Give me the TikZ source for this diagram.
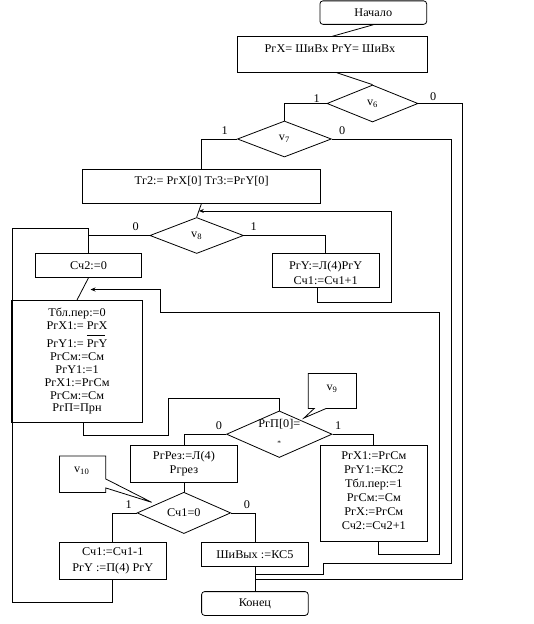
\documentclass[tikz,border=0pt]{standalone}
\usepackage{fontspec}
\setmainfont{Liberation Serif}[FakeStretch=1.04]
\usetikzlibrary{shapes.geometric,shapes.callouts,arrows.meta,calc}
\begin{document}
\begin{tikzpicture}[x=1pt,y=-1pt,
  every node/.style={font=\fontsize{11.8}{12.8}\selectfont, inner sep=0pt},
  box/.style={draw, line width=0.8pt, rectangle},
  rbox/.style={box, rounded corners=3pt},
  dia/.style={draw, diamond, line width=0.8pt},
  ln/.style={line width=0.8pt},
  arr/.style={ln, -{Stealth[length=5pt,width=4pt]}},
  callbox/.style={draw, rectangle callout, line width=0.8pt}]

\fill[white] (0,0) rectangle (534,624);
\useasboundingbox (0,0) rectangle (534,624);

% nodes
\node[rbox, minimum width=106.7pt, minimum height=23.5pt] (start) at (373.3,12.6) {Начало};
\node[box, minimum width=190pt, minimum height=35.6pt] (prx) at (332.3,54.5) {};
\node (prxt) at (330,48.7) {РгХ= ШиВх РгY= ШиВх};
\node[dia, minimum width=91pt, minimum height=37pt] (v6) at (372.5,103.5) {v\textsubscript{6}};
\node[dia, minimum width=94pt, minimum height=36pt] (v7) at (284.4,139) {v\textsubscript{7}};
\node[box, minimum width=237.4pt, minimum height=33.4pt] (tr2) at (201.5,186.3) {};
\node (tr2t) at (201.6,181.5) {Тг2:= РгХ[0] Тг3:=РгY[0]};
\node[dia, minimum width=93.6pt, minimum height=36pt] (v8) at (196.7,235.5) {v\textsubscript{8}};
\node[box, minimum width=105.5pt, minimum height=23.8pt] (sc2) at (88.5,265.5) {Сч2:=0};
\node[box, minimum width=106.5pt, minimum height=34pt] (pry) at (325.7,270.6) {};
\begin{scope}
  \clip (pry.north west) rectangle ([yshift=3pt]pry.south east);
  \node[align=center, font=\fontsize{11.8}{15.3}\selectfont] (pryt) at (325.7,273) {РгY:=Л(4)РгY\\Сч1:=Сч1+1};
\end{scope}
\node[box, minimum width=130.5pt, minimum height=122pt, align=center] (big) at (77.1,361.2)
  {Тбл.пер:=0\\ РгХ1:= РгХ\\[6pt] РгY1:= \smash{\makebox[0pt][l]{\raisebox{12.5pt}{\rule{18pt}{0.5pt}}}}РгY\\ РгСм:=См\\ РгY1:=1\\ РгХ1:=РгСм\\ РгСм:=См\\ РгП=Прн};
\node[dia, minimum width=105.6pt, minimum height=46.6pt] (pp) at (279.3,434.2) {};
\node (ppt) at (279.3,424.5) {РгП[0]=};
\node (ppm) at (279.3,443) {\scriptsize *};
\node[callbox, minimum width=48.2pt, minimum height=35pt, callout absolute pointer={(304,418)}, callout pointer width=12pt] (v9) at (332.4,390.9) {};
\node (v9t) at (332,388.5) {v\textsubscript{9}};
\node[box, minimum width=107pt, minimum height=36.8pt, align=center, font=\fontsize{11.8}{13.7}\selectfont] (rez) at (183.9,464) {РгРез:=Л(4)\\Ргрез};
\node[box, minimum width=107.2pt, minimum height=95.9pt] (rbx) at (373.8,493.5) {};
\node[align=center, font=\fontsize{11.8}{14.1}\selectfont] (rbxt) at (373.8,490.5)
  {РгХ1:=РгСм\\ РгY1:=КС2\\ Тбл.пер:=1\\ РгСм:=См\\ РгХ:=РгСм\\ Сч2:=Сч2+1};
\node[dia, minimum width=93.6pt, minimum height=36.8pt] (sc1z) at (183.9,512.9) {Сч1=0};
\node[callbox, minimum width=46.3pt, minimum height=36.5pt, callout absolute pointer={(151.6,502.3)}, callout pointer width=9pt] (v10) at (82.6,474.2) {};
\node (v10t) at (81.7,470.7) {v\textsubscript{10}};
\node[box, minimum width=106.3pt, minimum height=36.8pt, align=center, font=\fontsize{11.8}{15.7}\selectfont] (sc1m) at (112.8,560.6) {Сч1:=Сч1-1\\РгY :=П(4) РгY};
\node[box, minimum width=106.6pt, minimum height=24.5pt] (shv) at (254.9,554.4) {ШиВых :=КС5};
\node[rbox, minimum width=106.6pt, minimum height=23.8pt] (fin) at (254.9,603.5) {Конец};

% branch labels
\node (l6a) at (316.7,98.3) {1};
\node (l6b) at (433.3,97) {0};
\node (l7a) at (224.8,130.4) {1};
\node (l7b) at (342.3,130.4) {0};
\node (l8a) at (135.6,227) {0};
\node (l8b) at (253.7,227) {1};
\node (lpa) at (219,425.6) {0};
\node (lpb) at (338.2,425.6) {1};
\node (lsa) at (128.7,504.7) {1};
\node (lsb) at (246.9,504.7) {0};

% connectors
\coordinate (j6) at (254.9,579);
\coordinate (j7) at (254.9,574.5);
\draw[ln] (start.south) -- (prx.north);
\draw[ln] ([xshift=4.4pt]prx.south) -- (v6.north);
\draw[ln] (v6.west) -| (v7.north);
\draw[ln] (v6.east) -- (462.2,103.5) |- (j6);
\draw[ln] (v7.east) -- (451.3,139) -- (451.3,563.3) -| (322.9,574.5) -- (j7);
\draw[ln] (v7.west) -| (tr2.north);
\draw[ln] (tr2.south) -- (v8.north);
\coordinate (m1) at ($(tr2.south)!0.55!(v8.north)$);
\draw[arr] ([xshift=-8.3pt]pry.south) |- (391,302) |- (m1);
\draw[ln] (v8.west) -| (sc2.north);
\draw[ln] (v8.east) -| (pry.north);
\draw[ln] (sc2.south) -- (big.north);
\coordinate (a2) at (90.5,289.5);
\draw[arr] ([xshift=4.9pt]rbx.south) |- (439.4,554.8) |- (160.8,312.8) |- (a2);
\draw[ln] ([xshift=6.3pt]big.south) |- (167.9,435.8) -- (167.9,398.3) -| (pp.north);
\draw[ln] (pp.west) -| (rez.north);
\draw[ln] (pp.east) -| (rbx.north);
\draw[ln] (rez.south) -- (sc1z.north);
\draw[ln] (sc1z.west) -| (sc1m.north);
\draw[ln] (sc1z.east) -| (shv.north);
\draw[ln] (sc1m.south) |- (11.9,602.8) |- (88.5,228.7) -- (sc2.north);
\draw[ln] (shv.south) -- (fin.north);
\end{tikzpicture}
\end{document}
